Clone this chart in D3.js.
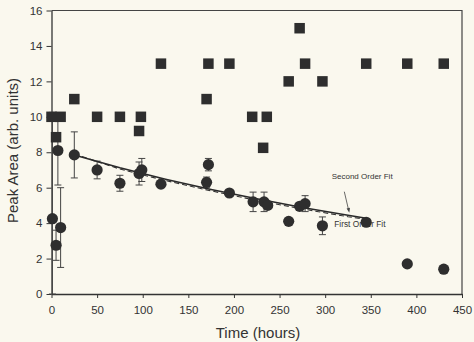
<!DOCTYPE html>
<html><head><meta charset="utf-8">
<script src="https://cdn.jsdelivr.net/npm/d3@7"></script>
<style>
body{margin:0;background:#faf8ee;}
svg{display:block;font-family:"Liberation Sans",Arial,sans-serif;}
</style>
</head><body><svg id="c" width="474" height="342"></svg>
<script>
// ---- data ----
const squareT = [0, 10, 5, 25, 50, 75, 96, 98, 120, 170, 172, 195, 220, 232, 236, 260, 272, 278, 297, 345, 390, 430];
const squareV = [10, 10, 8.85, 11, 10, 10, 9.2, 10, 13, 11, 13, 13, 10, 8.25, 10, 12, 15, 13, 12, 13, 13, 13];

const circleT     = [1, 5, 7, 10, 25, 50, 75, 96, 99, 120, 170, 172, 195, 221, 233, 237, 260, 272, 278, 297, 345, 390, 430];
const circleV     = [4.25, 2.75, 8.1, 3.75, 7.85, 7.0, 6.25, 6.8, 7.0, 6.2, 6.3, 7.3, 5.7, 5.2, 5.2, 5.0, 4.1, 4.95, 5.1, 3.85, 4.05, 1.7, 1.4];
const circleErrLo = [4.25, 0.85, 1.95, 2.25, 1.3, 0.5, 0.45, 0.65, 0.65, 0, 0.3, 0.35, 0, 0.55, 0.55, 0, 0, 0, 0.45, 0.5, 0, 0, 0];
const circleErrHi = [6.0, 0.85, 1.95, 2.25, 1.3, 0.5, 0.45, 0.65, 0.65, 0, 0.3, 0.35, 0, 0.55, 0.55, 0, 0, 0, 0.45, 0.5, 0, 0, 0];

const fitT           = [25, 75, 125, 175, 225, 275, 325, 345];
const firstOrderFit  = [7.85, 7.12, 6.48, 5.9, 5.37, 4.88, 4.45, 4.28];
const secondOrderFit = [7.9, 7.05, 6.4, 5.82, 5.28, 4.8, 4.36, 4.22];

const xTicks = [0, 50, 100, 150, 200, 250, 300, 350, 400, 450];
const yTicks = [0, 2, 4, 6, 8, 10, 12, 14, 16];

// ---- drawing ----
const ink = "#2e2e2e";
const svg = d3.select("#c");
const x = d3.scaleLinear().domain([0, 450]).range([51.5, 462]);
const y = d3.scaleLinear().domain([0, 16]).range([294, 10.5]);

// frame (top and right)
svg.append("path")
  .attr("d", `M${x(0)},${y(16)}H${x(450)}V${y(0)}`)
  .attr("fill", "none").attr("stroke", "#444").attr("stroke-width", 1.2);

const gx = svg.append("g").attr("transform", `translate(0,${y(0)})`)
  .call(d3.axisBottom(x).tickValues(xTicks).tickSize(4).tickSizeOuter(0).tickPadding(8));
const gy = svg.append("g").attr("transform", `translate(${x(0)},0)`)
  .call(d3.axisLeft(y).tickValues(yTicks).tickSize(5).tickSizeOuter(0).tickPadding(4));
[gx, gy].forEach(g => {
  g.select(".domain").attr("stroke", "#333").attr("stroke-width", 1.3);
  g.selectAll(".tick line").attr("stroke", "#333").attr("stroke-width", 1);
  g.selectAll(".tick text").attr("fill", "#333").style("font-size", "11.5px")
    .style("font-family", '"Liberation Sans",Arial,sans-serif');
});

// axis titles
svg.append("text").attr("x", 258).attr("y", 338).attr("text-anchor", "middle")
  .attr("fill", "#333").style("font-size", "15px").text("Time (hours)");
svg.append("text").attr("transform", "translate(18,150.5) rotate(-90)").attr("text-anchor", "middle")
  .attr("fill", "#333").style("font-size", "15px").text("Peak Area (arb. units)");

// error bars
const circles = circleT.map((t, i) => ({t, v: circleV[i], lo: circleErrLo[i], hi: circleErrHi[i]}));
const eb = svg.append("g").attr("stroke", "#444").attr("stroke-width", 1).attr("fill", "none");
circles.filter(d => d.lo > 0 || d.hi > 0).forEach(d => {
  const cx = x(d.t), y1 = y(d.v - d.lo), y2 = y(d.v + d.hi);
  eb.append("path").attr("d", `M${cx},${y1}V${y2}M${cx - 3.5},${y1}H${cx + 3.5}M${cx - 3.5},${y2}H${cx + 3.5}`);
});

// squares
const sq = 10.5;
svg.append("g").selectAll("rect").data(squareT.map((t, i) => ({t, v: squareV[i]}))).join("rect")
  .attr("x", d => x(d.t) - sq / 2).attr("y", d => y(d.v) - sq / 2)
  .attr("width", sq).attr("height", sq).attr("fill", ink);

// fit lines
const line = d3.line().x(d => x(d[0])).y(d => y(d[1]));
svg.append("path").attr("d", line(fitT.map((t, i) => [t, secondOrderFit[i]])))
  .attr("fill", "none").attr("stroke", "#333").attr("stroke-width", 1.1).attr("stroke-dasharray", "5,3");
svg.append("path").attr("d", line(fitT.map((t, i) => [t, firstOrderFit[i]])))
  .attr("fill", "none").attr("stroke", "#2a2a2a").attr("stroke-width", 1.5);

// annotations
svg.append("text").attr("x", 331.7).attr("y", 179).attr("fill", "#333")
  .style("font-size", "8px").text("Second Order Fit");
svg.append("text").attr("x", 334.3).attr("y", 227.3).attr("fill", "#333")
  .style("font-size", "8.3px").text("First Order Fit");
svg.append("line").attr("x1", 344.3).attr("y1", 191.7).attr("x2", 348.6).attr("y2", 210)
  .attr("stroke", "#444").attr("stroke-width", 0.8);
svg.append("path").attr("d", "M346.6,208.6L349.3,212.7L350,207.8Z").attr("fill", "#444");

// circles
svg.append("g").selectAll("circle").data(circles).join("circle")
  .attr("cx", d => x(d.t)).attr("cy", d => y(d.v)).attr("r", 5.6).attr("fill", ink);
</script>
</body></html>
